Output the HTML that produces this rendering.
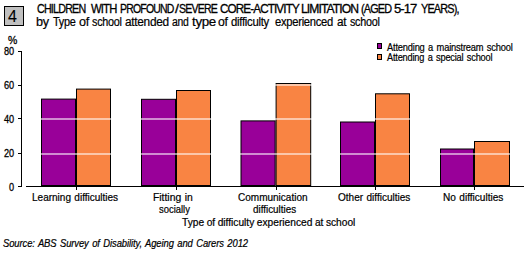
<!DOCTYPE html>
<html><head><meta charset="utf-8"><style>
html,body{margin:0;padding:0;background:#fff;width:529px;height:253px;overflow:hidden;position:relative}
*{box-sizing:border-box}
div,span{position:absolute}
body{font-family:"Liberation Sans",sans-serif;color:#000}
span{white-space:pre;line-height:1;transform-origin:0 0}
.num{left:4px;top:6px;width:20px;height:20px;border:1px solid #000;background:#c0c0c0}
.b{width:35px;border:1px solid #000}
.k{top:186px;width:1px;height:4px;background:#000}
.g{left:22px;width:502px;height:2px;background:rgba(255,255,255,0.55)}
.yax{left:21px;top:51px;width:1px;height:136px;background:#000}
.xax{left:26px;top:186px;width:498px;height:1px;background:#000}
.yt{left:18px;width:4px;height:1px;background:#000}
.lg{left:377px;width:5px;height:6px;border:1px solid #000}
</style></head><body>
<div class="num"></div><span style="left:8px;top:8.5px;font-size:16px;-webkit-text-stroke:0.1px #000">4</span>
<svg style="position:absolute;left:0;top:0" width="529" height="253"><rect x="41.5" y="99.1" width="34" height="86.4" fill="#990099" stroke="#000" stroke-width="1"/><rect x="76.5" y="89.1" width="34" height="96.4" fill="#f98443" stroke="#000" stroke-width="1"/><rect x="141.5" y="99.3" width="34" height="86.2" fill="#990099" stroke="#000" stroke-width="1"/><rect x="176.5" y="90.5" width="34" height="95" fill="#f98443" stroke="#000" stroke-width="1"/><rect x="241.0" y="120.9" width="34.10000000000002" height="64.6" fill="#990099" stroke="#000" stroke-width="1"/><rect x="276.1" y="83.5" width="34.599999999999966" height="102" fill="#f98443" stroke="#000" stroke-width="1"/><rect x="340.5" y="122.0" width="34" height="63.5" fill="#990099" stroke="#000" stroke-width="1"/><rect x="375.5" y="93.8" width="34" height="91.7" fill="#f98443" stroke="#000" stroke-width="1"/><rect x="440.5" y="149.0" width="33" height="36.5" fill="#990099" stroke="#000" stroke-width="1"/><rect x="474.5" y="141.5" width="35" height="44" fill="#f98443" stroke="#000" stroke-width="1"/><rect x="21" y="51" width="1" height="136" fill="#000"/><rect x="26" y="186" width="498" height="1" fill="#000"/><rect x="18" y="51" width="4" height="1" fill="#000"/><rect x="18" y="85" width="4" height="1" fill="#000"/><rect x="18" y="118" width="4" height="1" fill="#000"/><rect x="18" y="153" width="4" height="1" fill="#000"/><rect x="18" y="186" width="4" height="1" fill="#000"/><rect x="76" y="186" width="1" height="4" fill="#000"/><rect x="176" y="186" width="1" height="4" fill="#000"/><rect x="276" y="186" width="1" height="4" fill="#000"/><rect x="375" y="186" width="1" height="4" fill="#000"/><rect x="474" y="186" width="1" height="4" fill="#000"/><rect x="22" y="84" width="502" height="2" fill="#fff" fill-opacity="0.55"/><rect x="22" y="118" width="502" height="2" fill="#fff" fill-opacity="0.55"/><rect x="22" y="153" width="502" height="2" fill="#fff" fill-opacity="0.55"/></svg>
<div class="lg" style="top:43px;background:#990099"></div>
<div class="lg" style="top:54px;background:#f98443"></div>
<span style="left:37.40px;top:3px;font-size:12px;font-style:normal;letter-spacing:-0.9px;word-spacing:0px;-webkit-text-stroke:0.3px #000;transform:translateY(0px) scaleX(0.8927)">CHILDREN</span><span style="left:91.00px;top:3px;font-size:12px;font-style:normal;letter-spacing:-0.9px;word-spacing:0px;-webkit-text-stroke:0.3px #000;transform:translateY(0px) scaleX(0.9407)">WITH</span><span style="left:120.13px;top:3px;font-size:12px;font-style:normal;letter-spacing:-0.9px;word-spacing:0px;-webkit-text-stroke:0.3px #000;transform:translateY(0px) scaleX(0.8721)">PROFOUND</span><span style="left:174.60px;top:3px;font-size:12px;font-style:normal;letter-spacing:-0.9px;word-spacing:0px;-webkit-text-stroke:0.3px #000;transform:translateY(0px) scaleX(1.1750)">/</span><span style="left:179.22px;top:3px;font-size:12px;font-style:normal;letter-spacing:-0.9px;word-spacing:0px;-webkit-text-stroke:0.3px #000;transform:translateY(0px) scaleX(0.8767)">SEVERE</span><span style="left:220.00px;top:3px;font-size:12px;font-style:normal;letter-spacing:-0.9px;word-spacing:0px;-webkit-text-stroke:0.3px #000;transform:translateY(0px) scaleX(0.9732)">CORE-ACTIVITY</span><span style="left:300.99px;top:3px;font-size:12px;font-style:normal;letter-spacing:-0.9px;word-spacing:0px;-webkit-text-stroke:0.3px #000;transform:translateY(0px) scaleX(1.0107)">LIMITATION</span><span style="left:361.10px;top:3px;font-size:12px;font-style:normal;letter-spacing:-0.9px;word-spacing:0px;-webkit-text-stroke:0.3px #000;transform:translateY(0px) scaleX(0.9030)">(AGED</span><span style="left:394.41px;top:3px;font-size:12px;font-style:normal;letter-spacing:-0.9px;word-spacing:0px;-webkit-text-stroke:0.3px #000;transform:translateY(0px) scaleX(1.0900)">5-17</span><span style="left:421.00px;top:3px;font-size:12px;font-style:normal;letter-spacing:-0.9px;word-spacing:0px;-webkit-text-stroke:0.3px #000;transform:translateY(0px) scaleX(0.9048)">YEARS),</span><span style="left:36.35px;top:16px;font-size:12px;font-style:normal;letter-spacing:-0.3px;word-spacing:0px;-webkit-text-stroke:0.2px #000;transform:translateY(0px) scaleX(1.0545)">by</span><span style="left:53.00px;top:16px;font-size:12px;font-style:normal;letter-spacing:-0.3px;word-spacing:0px;-webkit-text-stroke:0.2px #000;transform:translateY(0px) scaleX(0.9080)">Type</span><span style="left:78.50px;top:16px;font-size:12px;font-style:normal;letter-spacing:-0.3px;word-spacing:0px;-webkit-text-stroke:0.2px #000;transform:translateY(0px) scaleX(1.0500)">of</span><span style="left:92.30px;top:16px;font-size:12px;font-style:normal;letter-spacing:-0.3px;word-spacing:0px;-webkit-text-stroke:0.2px #000;transform:translateY(0px) scaleX(0.9000)">school</span><span style="left:124.90px;top:16px;font-size:12px;font-style:normal;letter-spacing:-0.3px;word-spacing:0px;-webkit-text-stroke:0.2px #000;transform:translateY(0px) scaleX(0.9886)">attended</span><span style="left:172.30px;top:16px;font-size:12px;font-style:normal;letter-spacing:-0.3px;word-spacing:0px;-webkit-text-stroke:0.2px #000;transform:translateY(0px) scaleX(0.8684)">and</span><span style="left:191.60px;top:16px;font-size:12px;font-style:normal;letter-spacing:-0.3px;word-spacing:0px;-webkit-text-stroke:0.2px #000;transform:translateY(0px) scaleX(1.1143)">type</span><span style="left:218.30px;top:16px;font-size:12px;font-style:normal;letter-spacing:-0.3px;word-spacing:0px;-webkit-text-stroke:0.2px #000;transform:translateY(0px) scaleX(1.0200)">of</span><span style="left:231.30px;top:16px;font-size:12px;font-style:normal;letter-spacing:-0.3px;word-spacing:0px;-webkit-text-stroke:0.2px #000;transform:translateY(0px) scaleX(0.9463)">difficulty</span><span style="left:275.30px;top:16px;font-size:12px;font-style:normal;letter-spacing:-0.3px;word-spacing:0px;-webkit-text-stroke:0.2px #000;transform:translateY(0px) scaleX(0.9339)">experienced</span><span style="left:336.80px;top:16px;font-size:12px;font-style:normal;letter-spacing:-0.3px;word-spacing:0px;-webkit-text-stroke:0.2px #000;transform:translateY(0px) scaleX(0.9800)">at</span><span style="left:349.50px;top:16px;font-size:12px;font-style:normal;letter-spacing:-0.3px;word-spacing:0px;-webkit-text-stroke:0.2px #000;transform:translateY(0px) scaleX(0.8970)">school</span><span style="left:387.20px;top:42px;font-size:10px;font-style:normal;letter-spacing:-0.2px;word-spacing:1.2px;-webkit-text-stroke:0.2px #000;transform:translateY(0.5px) scaleX(0.9296)">Attending a mainstream school</span><span style="left:387.20px;top:52px;font-size:10px;font-style:normal;letter-spacing:-0.2px;word-spacing:1.2px;-webkit-text-stroke:0.2px #000;transform:translateY(0.5px) scaleX(0.9193)">Attending a special school</span><span style="left:31.50px;top:193px;font-size:10px;font-style:normal;letter-spacing:0px;word-spacing:0.6px;-webkit-text-stroke:0.2px #000;transform:translateY(0px) scaleX(1.0012)">Learning difficulties</span><span style="left:153.46px;top:193px;font-size:10px;font-style:normal;letter-spacing:0px;word-spacing:0.6px;-webkit-text-stroke:0.2px #000;transform:translateY(0px) scaleX(1.0351)">Fitting in</span><span style="left:159.30px;top:205px;font-size:10px;font-style:normal;letter-spacing:0px;word-spacing:0px;-webkit-text-stroke:0.2px #000;transform:translateY(0px) scaleX(0.9424)">socially</span><span style="left:238.20px;top:193px;font-size:10px;font-style:normal;letter-spacing:0px;word-spacing:0.6px;-webkit-text-stroke:0.2px #000;transform:translateY(0px) scaleX(1.0014)">Communication</span><span style="left:252.90px;top:205px;font-size:10px;font-style:normal;letter-spacing:0px;word-spacing:0px;-webkit-text-stroke:0.2px #000;transform:translateY(0px) scaleX(0.9864)">difficulties</span><span style="left:338.20px;top:193px;font-size:10px;font-style:normal;letter-spacing:0px;word-spacing:0.6px;-webkit-text-stroke:0.2px #000;transform:translateY(0px) scaleX(1.0028)">Other difficulties</span><span style="left:442.59px;top:193px;font-size:10px;font-style:normal;letter-spacing:0px;word-spacing:0.6px;-webkit-text-stroke:0.2px #000;transform:translateY(0px) scaleX(1.0085)">No difficulties</span><span style="left:181.70px;top:218px;font-size:10px;font-style:normal;letter-spacing:0px;word-spacing:-0.3px;-webkit-text-stroke:0.2px #000;transform:translateY(0px) scaleX(1.0194)">Type of difficulty experienced at school</span><span style="left:3.20px;top:239px;font-size:10px;font-style:italic;letter-spacing:-0.1px;word-spacing:1.0px;-webkit-text-stroke:0.2px #000;transform:translateY(0px) scaleX(0.9423)">Source: ABS Survey of Disability, Ageing and Carers 2012</span><span style="left:4.00px;top:46px;font-size:11px;font-style:normal;letter-spacing:0px;word-spacing:0px;-webkit-text-stroke:0.3px #000;transform:translateY(0px) scaleX(0.8333)">80</span><span style="left:4.00px;top:80px;font-size:11px;font-style:normal;letter-spacing:0px;word-spacing:0px;-webkit-text-stroke:0.3px #000;transform:translateY(0px) scaleX(0.8333)">60</span><span style="left:4.00px;top:114px;font-size:11px;font-style:normal;letter-spacing:0px;word-spacing:0px;-webkit-text-stroke:0.3px #000;transform:translateY(0px) scaleX(0.8333)">40</span><span style="left:4.00px;top:148px;font-size:11px;font-style:normal;letter-spacing:0px;word-spacing:0px;-webkit-text-stroke:0.3px #000;transform:translateY(0px) scaleX(0.8333)">20</span><span style="left:9.00px;top:182px;font-size:11px;font-style:normal;letter-spacing:0px;word-spacing:0px;-webkit-text-stroke:0.3px #000;transform:translateY(0px) scaleX(0.8333)">0</span><span style="left:7.70px;top:35px;font-size:11px;font-style:normal;letter-spacing:0px;word-spacing:0px;-webkit-text-stroke:0.3px #000;transform:translateY(0px) scaleX(0.9500)">%</span>
</body></html>
